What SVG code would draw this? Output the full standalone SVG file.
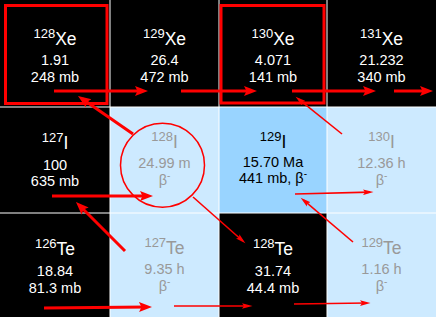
<svg xmlns="http://www.w3.org/2000/svg" width="436" height="317" viewBox="0 0 436 317">
<defs>
<style>
text{font-family:"Liberation Sans",Arial,sans-serif;font-size:14.5px;text-anchor:middle}
.sym{font-size:17.5px}
.sup{font-size:13px}
.m{font-size:10px}
.w{fill:#fff}
.g{fill:#999}
.k{fill:#000}
.st{fill:#000}
.lb{fill:#cdeaff}
.mb{fill:#99d4ff}
.grid line{stroke:#fff;stroke-width:1}
.hl{fill:none;stroke:#f00;stroke-width:3}
.thick{stroke:#f00;stroke-width:3;fill:none;marker-end:url(#ah)}
.thin{stroke:#f00;stroke-width:1.6;fill:none;marker-end:url(#ahs)}
</style>
<marker id="ah" markerUnits="userSpaceOnUse" markerWidth="14" markerHeight="11" refX="8" refY="5" orient="auto"><path d="M0,0 L13,5 L0,10 L2.5,5 z" fill="#f00"/></marker>
<marker id="ahs" markerUnits="userSpaceOnUse" markerWidth="11" markerHeight="6" refX="7" refY="3" orient="auto"><path d="M0,0.2 L10.5,3 L0,5.8 L2,3 z" fill="#f00"/></marker>
</defs>
<rect width="436" height="317" fill="#fff"/>

<g id="Xe128"><rect class="st" x="0" y="0" width="110" height="107"/>
<text class="sym w" x="55" y="45"><tspan class="sup" dy="-7">128</tspan><tspan dy="7">Xe</tspan></text>
<text class="w" x="55" y="65">1.91</text><text class="w" x="55" y="81.5">248 mb</text></g>
<g id="Xe129"><rect class="st" x="110" y="0" width="109" height="107"/>
<text class="sym w" x="164.5" y="45"><tspan class="sup" dy="-7">129</tspan><tspan dy="7">Xe</tspan></text>
<text class="w" x="164.5" y="65">26.4</text><text class="w" x="164.5" y="81.5">472 mb</text></g>
<g id="Xe130"><rect class="st" x="219" y="0" width="108" height="107"/>
<text class="sym w" x="273" y="45"><tspan class="sup" dy="-7">130</tspan><tspan dy="7">Xe</tspan></text>
<text class="w" x="273" y="65">4.071</text><text class="w" x="273" y="81.5">141 mb</text></g>
<g id="Xe131"><rect class="st" x="327" y="0" width="109" height="107"/>
<text class="sym w" x="381.5" y="45"><tspan class="sup" dy="-7">131</tspan><tspan dy="7">Xe</tspan></text>
<text class="w" x="381.5" y="65">21.232</text><text class="w" x="381.5" y="81.5">340 mb</text></g>

<g id="I127"><rect class="st" x="0" y="107" width="110" height="106"/>
<text class="sym w" x="55" y="149"><tspan class="sup" dy="-7">127</tspan><tspan dy="7">I</tspan></text>
<text class="w" x="55" y="169.5">100</text><text class="w" x="55" y="186">635 mb</text></g>
<g id="I128"><rect class="lb" x="110" y="107" width="109" height="106"/>
<text class="sym g" x="164.5" y="147.5"><tspan class="sup" dy="-7">128</tspan><tspan dy="7">I</tspan></text>
<text class="g" x="164.5" y="168">24.99 m</text><text class="g" x="164.5" y="185"><tspan>β</tspan><tspan class="m" dy="-6">-</tspan></text></g>
<g id="I129"><rect class="mb" x="219" y="107" width="108" height="106"/>
<text class="sym k" x="273" y="147.5"><tspan class="sup" dy="-7">129</tspan><tspan dy="7">I</tspan></text>
<text class="k" x="273" y="167">15.70 Ma</text><text class="k" x="273" y="182.5"><tspan>441 mb, β</tspan><tspan class="m" dy="-6">-</tspan></text></g>
<g id="I130"><rect class="lb" x="327" y="107" width="109" height="106"/>
<text class="sym g" x="381.5" y="147.5"><tspan class="sup" dy="-7">130</tspan><tspan dy="7">I</tspan></text>
<text class="g" x="381.5" y="168">12.36 h</text><text class="g" x="381.5" y="185"><tspan>β</tspan><tspan class="m" dy="-6">-</tspan></text></g>

<g id="Te126"><rect class="st" x="0" y="213" width="110" height="104"/>
<text class="sym w" x="55" y="255"><tspan class="sup" dy="-7">126</tspan><tspan dy="7">Te</tspan></text>
<text class="w" x="55" y="276">18.84</text><text class="w" x="55" y="292.5">81.3 mb</text></g>
<g id="Te127"><rect class="lb" x="110" y="213" width="109" height="104"/>
<text class="sym g" x="164.5" y="254"><tspan class="sup" dy="-7">127</tspan><tspan dy="7">Te</tspan></text>
<text class="g" x="164.5" y="274">9.35 h</text><text class="g" x="164.5" y="291"><tspan>β</tspan><tspan class="m" dy="-6">-</tspan></text></g>
<g id="Te128"><rect class="st" x="219" y="213" width="108" height="104"/>
<text class="sym w" x="273" y="254.5"><tspan class="sup" dy="-7">128</tspan><tspan dy="7">Te</tspan></text>
<text class="w" x="273" y="276">31.74</text><text class="w" x="273" y="292.5">44.4 mb</text></g>
<g id="Te129"><rect class="lb" x="327" y="213" width="109" height="104"/>
<text class="sym g" x="381.5" y="254"><tspan class="sup" dy="-7">129</tspan><tspan dy="7">Te</tspan></text>
<text class="g" x="381.5" y="274">1.16 h</text><text class="g" x="381.5" y="291"><tspan>β</tspan><tspan class="m" dy="-6">-</tspan></text></g>

<g class="grid">
<line x1="110" y1="0" x2="110" y2="317"/><line x1="219" y1="0" x2="219" y2="317"/><line x1="327" y1="0" x2="327" y2="317"/>
<line x1="0" y1="107" x2="436" y2="107"/><line x1="0" y1="213" x2="436" y2="213"/>
</g>

<g id="highlights">
<rect class="hl" x="5.5" y="5.5" width="101.5" height="98"/>
<rect class="hl" x="221" y="5.5" width="103" height="97.5"/>
<circle cx="162.5" cy="165.2" r="42" fill="none" stroke="#f00" stroke-width="1.5"/>
</g>

<g id="connectors">
<line class="thick" x1="54" y1="91" x2="143" y2="91"/>
<line class="thick" x1="181" y1="91" x2="252" y2="91"/>
<line class="thick" x1="292" y1="91" x2="371" y2="91"/>
<line class="thick" x1="394" y1="91" x2="428" y2="91"/>
<line class="thick" x1="133" y1="134" x2="82.1" y2="98.8"/>
<line class="thick" x1="52" y1="196" x2="148" y2="196"/>
<line class="thick" x1="125" y1="251" x2="79.5" y2="205.5"/>
<line class="thick" x1="44" y1="308" x2="147" y2="307"/>
<line class="thin" x1="342" y1="134" x2="298.3" y2="98.9"/>
<line class="thin" x1="193" y1="197" x2="242.8" y2="241"/>
<line class="thin" x1="295" y1="194" x2="370" y2="192.1"/>
<line class="thin" x1="353" y1="242" x2="303.3" y2="199.9"/>
<line class="thin" x1="174" y1="306" x2="249" y2="306"/>
<line class="thin" x1="294" y1="304" x2="367" y2="303"/>
</g>
</svg>
